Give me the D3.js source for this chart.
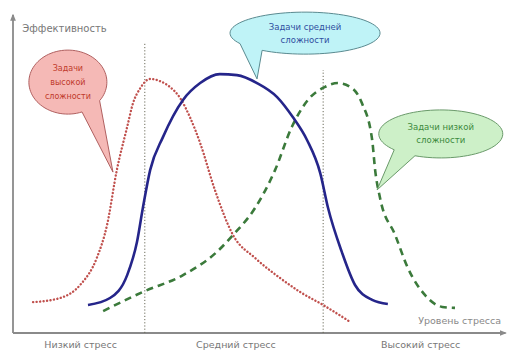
<!DOCTYPE html>
<html>
<head>
<meta charset="utf-8">
<script src="https://cdn.jsdelivr.net/npm/d3@7"></script>
<style>
  body { margin: 0; background: #fff; }
  text { font-family: "DejaVu Sans", Verdana, sans-serif; }
</style>
</head>
<body>
<div id="chart"></div>
<script>
// Curve values (stress level 0..100, efficiency 0..100)
var highX = [4.1, 9.6, 13.7, 17.1, 19.2, 21.2, 23.3, 24.5, 25.9, 28.0, 30.0, 32.0, 34.1, 36.1, 38.2, 41.2, 44.9, 49.4, 54.5, 58.6, 63.3, 68.8];
var highY = [9.7, 11.0, 15.1, 23.6, 34.0, 51.3, 64.8, 72.3, 76.8, 79.9, 79.2, 77.4, 73.9, 67.9, 59.7, 45.0, 30.8, 23.6, 17.3, 12.9, 8.8, 3.5];

var midX = [15.3, 19.8, 23.3, 25.3, 26.5, 28.0, 30.6, 34.7, 38.2, 42.2, 45.7, 49.8, 53.9, 57.1, 60.0, 62.7, 64.3, 67.1, 69.8, 73.3, 76.5];
var midY = [8.8, 11.0, 18.2, 28.6, 39.3, 51.3, 61.6, 73.3, 78.6, 81.4, 81.1, 78.6, 74.2, 67.9, 60.7, 50.3, 39.3, 25.5, 15.1, 10.4, 9.1];

var lowX = [18.4, 26.5, 34.7, 41.6, 44.9, 49.4, 53.5, 56.9, 60.2, 63.7, 66.3, 69.2, 71.2, 73.3, 73.9, 74.9, 78.0, 80.6, 84.1, 87.6, 90.2];
var lowY = [6.9, 12.9, 18.2, 25.5, 30.8, 39.3, 51.3, 64.8, 73.3, 77.4, 78.6, 77.0, 72.3, 60.7, 51.3, 42.5, 30.8, 20.4, 11.9, 8.2, 7.9];

// vertical markers: x position and top
var markerX = [26.9, 63.3];
var markerTop = [91.5, 82.7];

var zoneLabels = ["Низкий стресс", "Средний стресс", "Высокий стресс"];
var zoneX = [13.8, 45.5, 83.2];

var yTitle = "Эффективность";
var xTitle = "Уровень стресса";

// callouts
var calloutLines = [["Задачи", "высокой", "сложности"], ["Задачи средней", "сложности"], ["Задачи низкой", "сложности"]];
var calloutX = [11.2, 59.6, 87.3];
var calloutY = [78.9, 94.3, 62.6];
var calloutTipX = [20.4, 49.8, 74.3];
var calloutTipY = [50.6, 79.9, 45.0];

var w = 510, h = 351;

var svg = d3.select("#chart").append("svg")
  .attr("width", w)
  .attr("height", h);

var x = d3.scaleLinear().domain([0, 100]).range([13, 503]);
var y = d3.scaleLinear().domain([0, 100]).range([333, 15]);

// arrow head
svg.append("defs").append("marker")
  .attr("id", "arr")
  .attr("viewBox", "0 0 10 10")
  .attr("refX", 8).attr("refY", 5)
  .attr("markerWidth", 4).attr("markerHeight", 4)
  .attr("orient", "auto")
  .append("path")
  .attr("d", "M0,1 L10,5 L0,9 z")
  .attr("fill", "#8a8a8a");

// axes
svg.append("line")
  .attr("x1", x(0)).attr("y1", y(0))
  .attr("x2", x(0)).attr("y2", y(100))
  .attr("stroke", "#8a8a8a").attr("stroke-width", 1.8)
  .attr("marker-end", "url(#arr)");
svg.append("line")
  .attr("x1", x(0)).attr("y1", y(0))
  .attr("x2", x(100.5)).attr("y2", y(0))
  .attr("stroke", "#8a8a8a").attr("stroke-width", 1.8)
  .attr("marker-end", "url(#arr)");

// vertical dotted markers
svg.selectAll(".marker")
  .data(markerX)
  .enter().append("line")
  .attr("class", "marker")
  .attr("x1", d => x(d)).attr("x2", d => x(d))
  .attr("y1", y(0)).attr("y2", (d, i) => y(markerTop[i]))
  .attr("stroke", "#6b6b5a")
  .attr("stroke-width", 1)
  .attr("stroke-dasharray", "1.2,2");

var line = d3.line()
  .x(d => x(d[0]))
  .y(d => y(d[1]))
  .curve(d3.curveMonotoneX);

function pts(xs, ys) { return xs.map((v, i) => [v, ys[i]]); }

// high complexity - red dotted
svg.append("path")
  .datum(pts(highX, highY))
  .attr("fill", "none")
  .attr("stroke", "#c0504d")
  .attr("stroke-width", 2.4)
  .attr("stroke-linecap", "round")
  .attr("stroke-dasharray", "0.1,3.4")
  .attr("d", line);

// low complexity - green dashed
svg.append("path")
  .datum(pts(lowX, lowY))
  .attr("fill", "none")
  .attr("stroke", "#3b7a3b")
  .attr("stroke-width", 2.6)
  .attr("stroke-dasharray", "7,5")
  .attr("d", line);

// medium complexity - blue solid
svg.append("path")
  .datum(pts(midX, midY))
  .attr("fill", "none")
  .attr("stroke", "#25258a")
  .attr("stroke-width", 2.6)
  .attr("d", line);

// callout bubbles
var bubbleStyle = [
  {rx: 39, ry: 32, gap: [0.62, 1.2], fill: "#f5b9b6", stroke: "#b06060", text: "#c0392b", fs: 8, lh: 14},
  {rx: 75, ry: 21, gap: [2.18, 2.62], fill: "#bff3f7", stroke: "#5a8a90", text: "#2f4fa0", fs: 8.5, lh: 13},
  {rx: 62, ry: 24, gap: [2.0, 2.42], fill: "#cdf0c8", stroke: "#6a9a6a", text: "#3c8a3c", fs: 8.5, lh: 13}
];

calloutLines.forEach(function(lines, i) {
  var s = bubbleStyle[i];
  var cx = x(calloutX[i]), cy = y(calloutY[i]);
  var p = [];
  var a0 = s.gap[1], a1 = s.gap[0] + Math.PI * 2;
  for (var k = 0; k <= 80; k++) {
    var t = a0 + (a1 - a0) * k / 80;
    p.push([cx + s.rx * Math.cos(t), cy + s.ry * Math.sin(t)]);
  }
  p.push([x(calloutTipX[i]), y(calloutTipY[i])]);
  svg.append("path")
    .attr("d", d3.line()(p) + "Z")
    .attr("fill", s.fill)
    .attr("stroke", s.stroke)
    .attr("stroke-width", 1);
  svg.append("text")
    .attr("x", cx)
    .attr("y", cy - (lines.length - 1) * s.lh / 2 + 3)
    .attr("text-anchor", "middle")
    .style("font-size", s.fs + "px")
    .attr("fill", s.text)
    .selectAll("tspan")
    .data(lines)
    .enter().append("tspan")
    .attr("x", cx)
    .attr("dy", (d, j) => j === 0 ? 0 : s.lh)
    .text(d => d);
});

// axis titles
svg.append("text")
  .attr("x", x(1.9)).attr("y", y(94.5))
  .style("font-size", "10px")
  .attr("fill", "#777")
  .text(yTitle);

svg.append("text")
  .attr("x", x(99.6)).attr("y", y(2.8))
  .attr("text-anchor", "end")
  .style("font-size", "9.5px")
  .attr("fill", "#888")
  .text(xTitle);

// zone labels
svg.selectAll(".zone")
  .data(zoneLabels)
  .enter().append("text")
  .attr("class", "zone")
  .attr("x", (d, i) => x(zoneX[i]))
  .attr("y", 348)
  .attr("text-anchor", "middle")
  .style("font-size", "9.5px")
  .attr("fill", "#777")
  .text(d => d);
</script>
</body>
</html>
